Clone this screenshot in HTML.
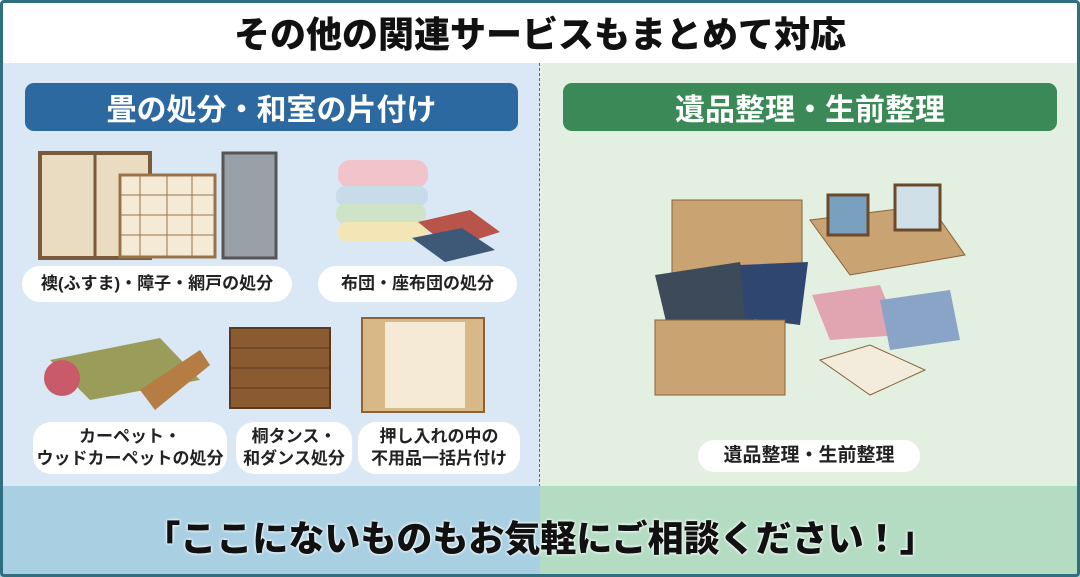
<!DOCTYPE html>
<html><head><meta charset="utf-8"><style>
*{margin:0;padding:0;box-sizing:border-box}
body{width:1080px;height:577px;overflow:hidden;font-family:"Liberation Sans","Noto Sans CJK JP",sans-serif;background:#fff;position:relative}
.a{position:absolute}
.pill{position:absolute;background:#fff;border-radius:18px;display:flex;align-items:center;justify-content:center;text-align:center;font-weight:bold;color:#222;font-size:17px;line-height:22px}
.hd{position:absolute;top:83px;height:48px;border-radius:9px;color:#fff;font-weight:bold;font-size:30px;display:flex;align-items:center;justify-content:center}
</style></head><body>
<div class="a" style="left:0;top:0;width:1080px;height:63px;background:#fff;display:flex;align-items:center;justify-content:center;font-size:36px;font-weight:900;color:#111">その他の関連サービスもまとめて対応</div>
<div class="a" style="left:0;top:63px;width:540px;height:424px;background:#d9e8f4"></div>
<div class="a" style="left:540px;top:63px;width:540px;height:424px;background:#e3efe1"></div>
<div class="a" style="left:539px;top:63px;height:424px;border-left:1.5px dashed #667"></div>
<div class="a" style="left:0;top:486px;width:540px;height:91px;background:#a8cfe2"></div>
<div class="a" style="left:540px;top:486px;width:540px;height:91px;background:#b4dcc3"></div>
<div class="a" style="left:0;top:0;width:1080px;height:577px;border:3px solid #2f6f80;border-radius:4px"></div>
<div class="hd" style="left:25px;width:493px;background:#2b69a0">畳の処分・和室の片付け</div>
<div class="hd" style="left:563px;width:494px;background:#3a8956">遺品整理・生前整理</div>

<svg class="a" style="left:0;top:0" width="1080" height="577">
<rect x="40" y="153" width="110" height="105" fill="#e9dcc0" stroke="#7a5a3a" stroke-width="4"/>
<line x1="95" y1="153" x2="95" y2="258" stroke="#7a5a3a" stroke-width="3"/>
<rect x="120" y="175" width="95" height="82" fill="#f4ead6" stroke="#9a7448" stroke-width="3"/>
<g stroke="#9a7448" stroke-width="1"><line x1="120" y1="195" x2="215" y2="195"/><line x1="120" y1="215" x2="215" y2="215"/><line x1="120" y1="235" x2="215" y2="235"/><line x1="140" y1="175" x2="140" y2="257"/><line x1="167" y1="175" x2="167" y2="257"/><line x1="192" y1="175" x2="192" y2="257"/></g>
<rect x="223" y="153" width="53" height="105" fill="#9aa0a8" stroke="#555" stroke-width="3"/>
<rect x="338" y="160" width="90" height="28" rx="12" fill="#f1c4cc"/>
<rect x="336" y="186" width="92" height="20" rx="9" fill="#c8dbe9"/>
<rect x="336" y="204" width="90" height="20" rx="9" fill="#cfe3c7"/>
<rect x="338" y="222" width="90" height="20" rx="9" fill="#f3e5b5"/>
<path d="M418 222 L470 210 L500 232 L450 248Z" fill="#b85449"/>
<path d="M412 238 L462 228 L495 250 L445 262Z" fill="#3e5878"/>
<path d="M50 360 L160 338 L200 380 L90 400Z" fill="#9a9c5a"/>
<circle cx="62" cy="378" r="18" fill="#c95a6a"/>
<path d="M140 390 L200 350 L210 365 L155 410Z" fill="#b57d44"/>
<rect x="230" y="328" width="100" height="80" fill="#8a5a30" stroke="#5a3a1e" stroke-width="2"/>
<g stroke="#5a3a1e"><line x1="230" y1="348" x2="330" y2="348"/><line x1="230" y1="368" x2="330" y2="368"/><line x1="230" y1="388" x2="330" y2="388"/></g>
<rect x="362" y="318" width="122" height="94" fill="#d9b888" stroke="#8a6438" stroke-width="2"/>
<rect x="385" y="322" width="80" height="86" fill="#f4ead6"/>
<rect x="672" y="200" width="130" height="75" fill="#c9a372" stroke="#8a6438"/>
<path d="M810 220 L930 205 L965 255 L850 275Z" fill="#c9a372" stroke="#8a6438"/>
<rect x="828" y="195" width="40" height="40" fill="#7aa0c0" stroke="#6a4a2a" stroke-width="3"/>
<rect x="895" y="185" width="45" height="45" fill="#cfe0e8" stroke="#6a4a2a" stroke-width="3"/>
<path d="M655 275 L740 262 L755 320 L668 330Z" fill="#3c4a5a"/>
<path d="M740 265 L808 262 L800 325 L745 318Z" fill="#2f4670"/>
<path d="M812 295 L880 285 L900 335 L830 340Z" fill="#e0a5b0"/>
<path d="M880 300 L950 290 L960 340 L890 350Z" fill="#8aa4c8"/>
<rect x="655" y="320" width="130" height="75" fill="#c9a372" stroke="#8a6438"/>
<path d="M820 360 L870 345 L925 370 L870 395Z" fill="#f3ecdc" stroke="#8a6438"/>
</svg>
<div class="pill" style="left:22px;top:266px;width:270px;height:36px">襖(ふすま)・障子・網戸の処分</div>
<div class="pill" style="left:318px;top:266px;width:199px;height:36px">布団・座布団の処分</div>
<div class="pill" style="left:33px;top:422px;width:194px;height:52px">カーペット・<br>ウッドカーペットの処分</div>
<div class="pill" style="left:236px;top:422px;width:116px;height:52px">桐タンス・<br>和ダンス処分</div>
<div class="pill" style="left:358px;top:422px;width:162px;height:52px">押し入れの中の<br>不用品一括片付け</div>
<div class="pill" style="left:698px;top:440px;width:222px;height:32px;font-size:19px">遺品整理・生前整理</div>
<div class="a" style="left:0;top:510px;width:1080px;text-align:center;font-size:36px;font-weight:900;color:#111;text-shadow:0 0 3px #fff,0 0 3px #fff">「ここにないものもお気軽にご相談ください！」</div>
</body></html>
